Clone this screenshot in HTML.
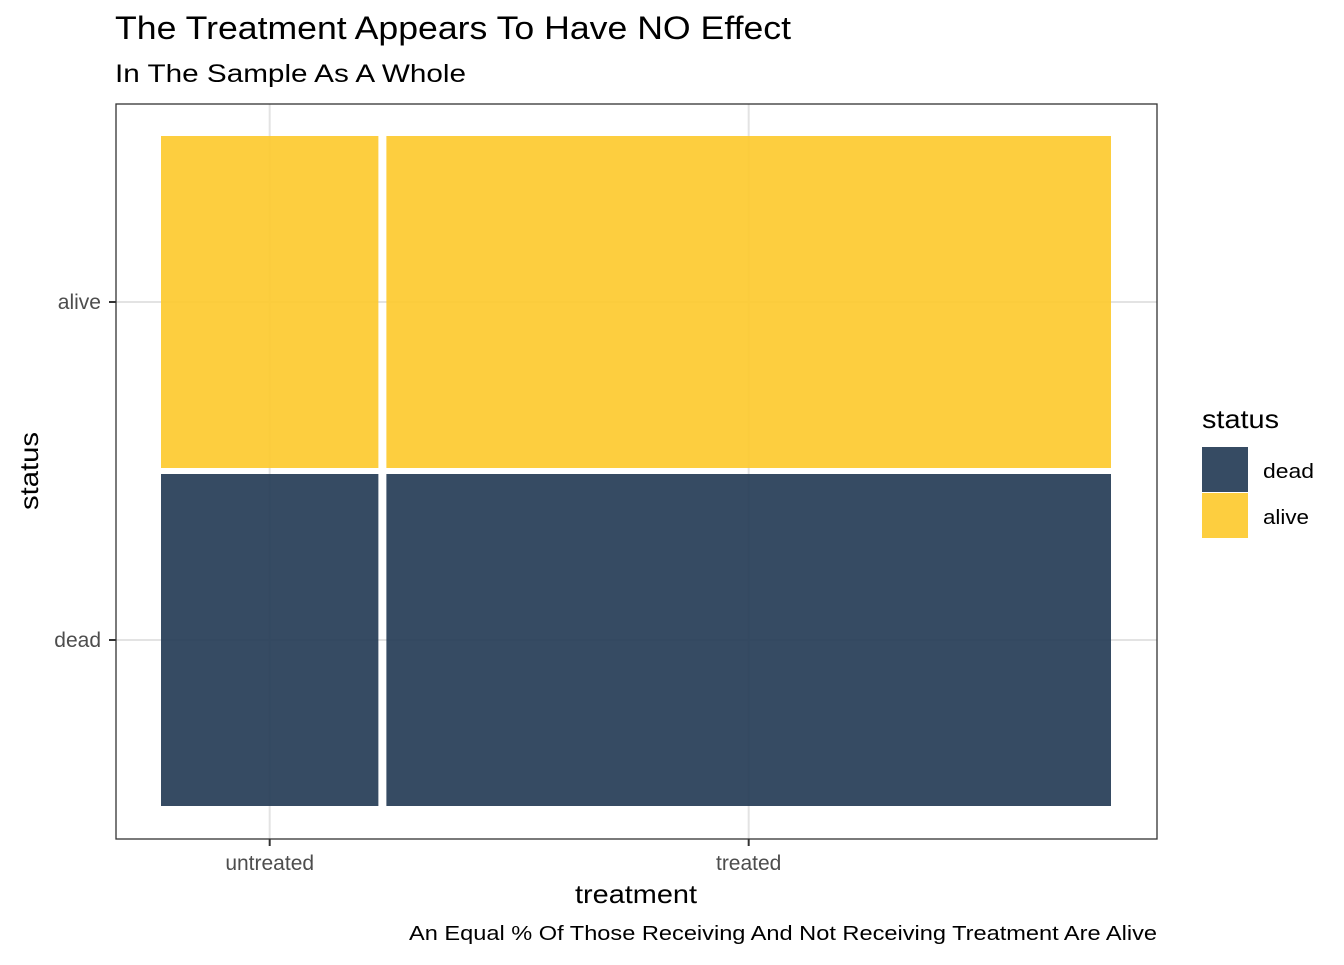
<!DOCTYPE html>
<html><head><meta charset="utf-8"><style>
body{margin:0;background:#fff;font-family:"Liberation Sans",Arial,sans-serif}
</style></head><body>
<svg width="1344" height="960" xmlns="http://www.w3.org/2000/svg" font-family="Liberation Sans, Arial, sans-serif">
<text x="115" y="39" font-size="32" textLength="676" lengthAdjust="spacingAndGlyphs" fill="#000">The Treatment Appears To Have NO Effect</text>
<text x="115" y="82" font-size="25" textLength="351" lengthAdjust="spacingAndGlyphs" fill="#000">In The Sample As A Whole</text>
<rect x="116" y="104" width="1041" height="735" fill="#fff"/>
<g id="grid"></g>
<g id="tiles"></g>
<rect x="116" y="104" width="1041" height="735" fill="none" stroke="#333" stroke-width="1.3"/>
<g id="axes"></g>
<text x="575" y="903" font-size="26" textLength="122" lengthAdjust="spacingAndGlyphs">treatment</text>
<text x="38" y="510" font-size="26" textLength="78" lengthAdjust="spacingAndGlyphs" transform="rotate(-90 38 510)" x2="0">status</text>
<text x="409" y="940" font-size="20" textLength="748" lengthAdjust="spacingAndGlyphs">An Equal % Of Those Receiving And Not Receiving Treatment Are Alive</text>
<g>
<text x="1202" y="428" font-size="26" textLength="77" lengthAdjust="spacingAndGlyphs">status</text>
<rect x="1202" y="447" width="46" height="45" fill="#364b63"/>
<text x="1263" y="478" font-size="20" textLength="51" lengthAdjust="spacingAndGlyphs">dead</text>
<rect x="1202" y="493" width="46" height="45" fill="#fdce3f"/>
<text x="1263" y="524" font-size="20" textLength="46" lengthAdjust="spacingAndGlyphs">alive</text>
</g>
</svg>
<script>
const categories=["untreated","treated"];
const statuses=["dead","alive"];
const deadCounts=[30,100];
const aliveCounts=[30,100];
const colors={dead:"#203752",alive:"#fdc92a"};
const NS="http://www.w3.org/2000/svg";
const X0=161,X1=1111,GX=8,Y0=136,Y1=806,GY=6;
const totals=categories.map((c,i)=>deadCounts[i]+aliveCounts[i]);
const grand=totals.reduce((a,b)=>a+b,0);
const availW=(X1-X0)-GX*(categories.length-1);
const availH=(Y1-Y0)-GY*(statuses.length-1);
function xScale(i){let x=X0;for(let k=0;k<i;k++)x+=totals[k]/grand*availW+GX;return [x,totals[i]/grand*availW];}
function yScale(i,s){const vals=[deadCounts[i],aliveCounts[i]];let y=Y1;for(let k=0;k<=s;k++){const h=vals[k]/totals[i]*availH;if(k===s)return [y-h,h];y-=h+GY;}}
const tiles=document.getElementById('tiles'),grid=document.getElementById('grid'),axes=document.getElementById('axes');
function mk(t,a,p){const e=document.createElementNS(NS,t);for(const k in a)e.setAttribute(k,a[k]);p.appendChild(e);return e;}
categories.forEach((c,i)=>{const [x,w]=xScale(i);const cx=x+w/2;
const l=mk('line',{x1:cx,x2:cx,y1:104,y2:839,stroke:'#e3e3e3','stroke-width':2},grid);


const t=mk('line',{x1:cx,x2:cx,y1:839,y2:846,stroke:'#333','stroke-width':2},axes);


const lb=mk('text',{x:cx,y:870,'font-size':21,'text-anchor':'middle',fill:'#4d4d4d'},axes);lb.textContent=c;


});
statuses.forEach((s,si)=>{const [y,h]=yScale(0,si);const cy=y+h/2;
const l=mk('line',{x1:116,x2:1157,y1:cy,y2:cy,stroke:'#e3e3e3','stroke-width':2},grid);


const t=mk('line',{x1:109,x2:116,y1:cy,y2:cy,stroke:'#333','stroke-width':2},axes);


const lb=mk('text',{x:101,y:cy+7,'font-size':21,'text-anchor':'end',fill:'#4d4d4d'},axes);lb.textContent=s;


});
categories.forEach((c,i)=>{const [x,w]=xScale(i);statuses.forEach((s,si)=>{const [y,h]=yScale(i,si);
const r=mk('rect',{x:x,y:y,width:w,height:h,fill:colors[s],'fill-opacity':0.9},tiles);


});});
</script>
</body></html>
